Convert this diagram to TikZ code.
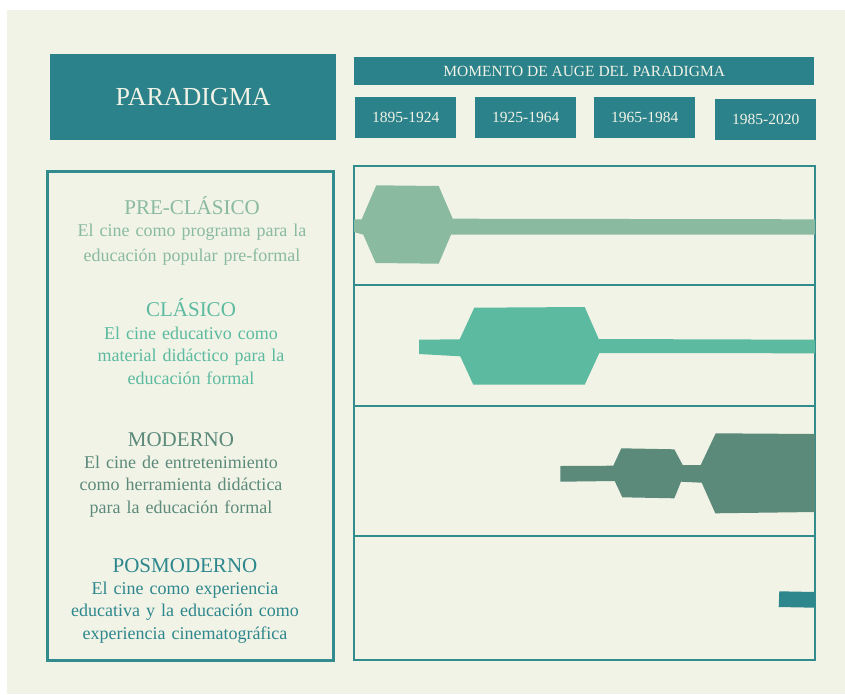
\documentclass[tikz,border=0pt]{standalone}
\usepackage{fontspec}
\setmainfont{Liberation Serif}
\usetikzlibrary{positioning}
\definecolor{fondo}{RGB}{241,243,231}
\definecolor{petroleo}{RGB}{44,130,138}
\definecolor{linea}{RGB}{50,140,141}
\definecolor{preclasico}{RGB}{138,186,160}
\definecolor{clasico}{RGB}{91,186,159}
\definecolor{moderno}{RGB}{92,138,122}
\definecolor{posmoderno}{RGB}{46,135,140}

\begin{document}
\begin{tikzpicture}[x=1pt, y=-1pt,
    caja/.style={fill=petroleo, text=fondo, inner sep=0pt, anchor=north west},
    anio/.style={caja, minimum width=101pt, minimum height=41pt, font=\fontsize{15.5}{18}\selectfont},
    titulo/.style={font=\fontsize{21}{25}\selectfont, anchor=base, inner sep=0pt},
    texto/.style={font=\fontsize{18}{22.5}\selectfont, align=center, text width=300pt, anchor=base, inner sep=0pt}]
        \useasboundingbox (0,0) rectangle (845,694);
        \fill[fondo] (7,10) rectangle (845,694);
        % Header
        \node[caja, minimum width=286pt, minimum height=86pt, font=\fontsize{26}{30}\selectfont] (paradigma) at (50,54) {PARADIGMA};
        \node[caja, minimum width=460pt, minimum height=28pt, font=\fontsize{15.5}{18}\selectfont] (momento) at (354,57) {MOMENTO DE AUGE DEL PARADIGMA};
        \node[anio] (y1) at (355,97) {1895-1924};
        \node[anio] (y2) at (475,97) {1925-1964};
        \node[anio] (y3) at (594,97) {1965-1984};
        \node[anio] (y4) at (715,99) {1985-2020};
        % Left panel
        \draw[linea, line width=3pt] (47,171) rectangle (333,660);
        \node[titulo, text=preclasico] (pre) at (192,214) {PRE-CLÁSICO};
        \node[texto, text=preclasico] (pretxt) at ([yshift=-22.7pt]pre.base) {El cine como programa para la\\[2.5pt] educación popular pre-formal};
        \node[titulo, text=clasico] (clas) at (191,316.7) {CLÁSICO};
        \node[texto, text=clasico] (clastxt) at ([yshift=-22.6pt]clas.base) {El cine educativo como\\ material didáctico para la\\ educación formal};
        \node[titulo, text=moderno] (mod) at (181,446) {MODERNO};
        \node[texto, text=moderno] (modtxt) at ([yshift=-22.3pt]mod.base) {El cine de entretenimiento\\ como herramienta didáctica\\ para la educación formal};
        \node[titulo, text=posmoderno] (pos) at (185,572.7) {POSMODERNO};
        \node[texto, text=posmoderno] (postxt) at ([yshift=-21.3pt]pos.base) {El cine como experiencia\\ educativa y la educación como\\ experiencia cinematográfica};
        % Right grid
        \draw[linea, line width=1.8pt] (354,166) rectangle (815,660);
        \foreach \y in {285,406,536}
            \draw[linea, line width=2pt] (354,\y) -- (815,\y);
        % Pre-clasico band
        \fill[preclasico] (354,219.3) -- (361.7,219.3) -- (376.3,185.3) -- (438.7,186) -- (452.7,218.7) -- (815,219.3)
            -- (815,234.7) -- (451,234.7) -- (438.7,263.7) -- (375.7,263) -- (363.3,234.7) -- (354,232) -- cycle;
        % Clasico band
        \fill[clasico] (419,339.7) -- (459.7,339.3) -- (474.3,307.7) -- (584.7,307) -- (598.7,339) -- (815,339.7)
            -- (815,353.3) -- (599.3,353) -- (584.7,384.7) -- (473.3,384.7) -- (460.3,356.3) -- (419,354) -- cycle;
        % Moderno band
        \fill[moderno] (560.3,466) -- (613.3,465.7) -- (621.3,448.3) -- (674.3,449.3) -- (682.7,465) -- (700.7,465)
            -- (715.7,433.3) -- (815,434) -- (815,512) -- (715.3,513.3) -- (701.7,482.7) -- (681,481.7)
            -- (674.3,498.3) -- (622.3,497.3) -- (614.7,481) -- (560.3,481.7) -- cycle;
        % Posmoderno band
        \fill[posmoderno] (779.3,591.3) -- (815,592) -- (815,607.7) -- (778.7,607) -- cycle;
    \end{tikzpicture}
\end{document}
